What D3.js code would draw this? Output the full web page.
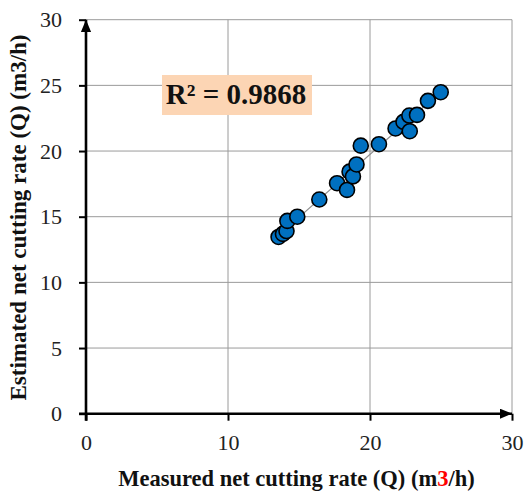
<!DOCTYPE html>
<html>
<head>
<meta charset="utf-8">
<script src="https://cdn.jsdelivr.net/npm/d3@7"></script>
<style>
  body { margin: 0; background: #fff; }
  svg text { font-family: "Liberation Serif", "Times New Roman", serif; }
</style>
</head>
<body>
<svg id="chart" width="527" height="493"></svg>
<script>
// measured vs estimated net cutting rate (m3/h)
var measured  = [13.56, 13.87, 14.12, 14.18, 14.88, 16.43, 17.68, 18.38, 18.56, 18.80,
                 19.05, 19.35, 20.63, 21.80, 22.36, 22.77, 23.31, 22.80, 24.08, 24.98];
var estimated = [13.46, 13.69, 13.91, 14.68, 15.00, 16.31, 17.55, 17.04, 18.43, 18.07,
                 18.98, 20.41, 20.52, 21.72, 22.22, 22.70, 22.75, 21.51, 23.82, 24.48];
var xTicks = [0, 10, 20, 30];
var yTicks = [0, 5, 10, 15, 20, 25, 30];
var r2Label = "R² = 0.9868";

var margin = { left: 86, right: 15, top: 19.7, bottom: 79.3 };
var W = 527, H = 493;
var svg = d3.select("#chart");

var x = d3.scaleLinear().domain([0, 30]).range([margin.left, W - margin.right]);
var y = d3.scaleLinear().domain([0, 30]).range([H - margin.bottom, margin.top]);

var points = measured.map(function (m, i) { return { x: m, y: estimated[i] }; });

// gridlines
var grid = svg.append("g").attr("class", "grid");
grid.selectAll(".vgrid").data(xTicks.slice(1)).enter().append("line")
    .attr("x1", d => x(d)).attr("x2", d => x(d))
    .attr("y1", y(0)).attr("y2", y(30))
    .attr("stroke", "#9a9a9a").attr("stroke-width", 1);
grid.selectAll(".hgrid").data(yTicks.slice(1)).enter().append("line")
    .attr("x1", x(0)).attr("x2", x(30))
    .attr("y1", d => y(d)).attr("y2", d => y(d))
    .attr("stroke", "#9a9a9a").attr("stroke-width", 1);

// trendline (least squares)
var mx = d3.mean(measured), my = d3.mean(estimated);
var slope = d3.sum(points, p => (p.x - mx) * (p.y - my)) / d3.sum(points, p => (p.x - mx) * (p.x - mx));
var icpt = my - slope * mx;
var ext = d3.extent(measured);
svg.append("line")
    .attr("x1", x(ext[0])).attr("y1", y(slope * ext[0] + icpt))
    .attr("x2", x(ext[1])).attr("y2", y(slope * ext[1] + icpt))
    .attr("stroke", "#8c8c8c").attr("stroke-width", 1.2);

// axes
var xAxis = d3.axisBottom(x).tickValues(xTicks).tickSize(7).tickPadding(14);
var yAxis = d3.axisLeft(y).tickValues(yTicks).tickSize(7).tickPadding(17);

var gx = svg.append("g").attr("transform", "translate(0," + y(0) + ")").call(xAxis);
var gy = svg.append("g").attr("transform", "translate(" + x(0) + ",0)").call(yAxis);
[gx, gy].forEach(function (g) {
    g.attr("font-family", null);
    g.select(".domain").remove();
    g.selectAll(".tick line").attr("stroke", "#000").attr("stroke-width", 2);
    g.selectAll(".tick text").attr("font-size", 22).attr("fill", "#222")
        .style("font-family", "'Liberation Serif', 'Times New Roman', serif");
});

// axis lines with arrows
var defs = svg.append("defs");
defs.append("marker").attr("id", "arrow")
    .attr("viewBox", "0 0 10 10").attr("refX", 10).attr("refY", 5)
    .attr("markerWidth", 4.8).attr("markerHeight", 4).attr("orient", "auto")
    .attr("preserveAspectRatio", "none")
    .append("path").attr("d", "M0,0 L10,5 L0,10 z").attr("fill", "#000");

svg.append("line")
    .attr("x1", x(0) - 7).attr("y1", y(0))
    .attr("x2", x(30)).attr("y2", y(0))
    .attr("stroke", "#000").attr("stroke-width", 2.6).attr("marker-end", "url(#arrow)");
svg.append("line")
    .attr("x1", x(0)).attr("y1", y(0) + 7)
    .attr("x2", x(0)).attr("y2", y(30))
    .attr("stroke", "#000").attr("stroke-width", 2.6).attr("marker-end", "url(#arrow)");

// points
svg.append("g").selectAll("circle").data(points).enter().append("circle")
    .attr("cx", d => x(d.x)).attr("cy", d => y(d.y)).attr("r", 7.5)
    .attr("fill", "#0070c0").attr("stroke", "#000").attr("stroke-width", 1.6);

// R² label
var lbl = svg.append("g");
lbl.append("rect").attr("x", 162).attr("y", 75).attr("width", 150).attr("height", 40)
    .attr("fill", "#fcd5b4");
lbl.append("text").attr("x", 236).attr("y", 103.5)
    .attr("text-anchor", "middle").attr("font-size", 29).attr("font-weight", "bold")
    .attr("fill", "#111").text(r2Label);

// axis titles
var xt = svg.append("text").attr("x", 296.5).attr("y", 485.5)
    .attr("text-anchor", "middle").attr("font-size", 22.5).attr("font-weight", "bold").attr("fill", "#111");
xt.append("tspan").text("Measured net cutting rate (Q) (m");
xt.append("tspan").attr("fill", "#ff0000").text("3");
xt.append("tspan").text("/h)");

svg.append("text").attr("transform", "translate(26,217.5) rotate(-90)")
    .attr("text-anchor", "middle").attr("font-size", 23).attr("font-weight", "bold").attr("fill", "#111")
    .text("Estimated net cutting rate (Q) (m3/h)");
</script>
</body>
</html>
